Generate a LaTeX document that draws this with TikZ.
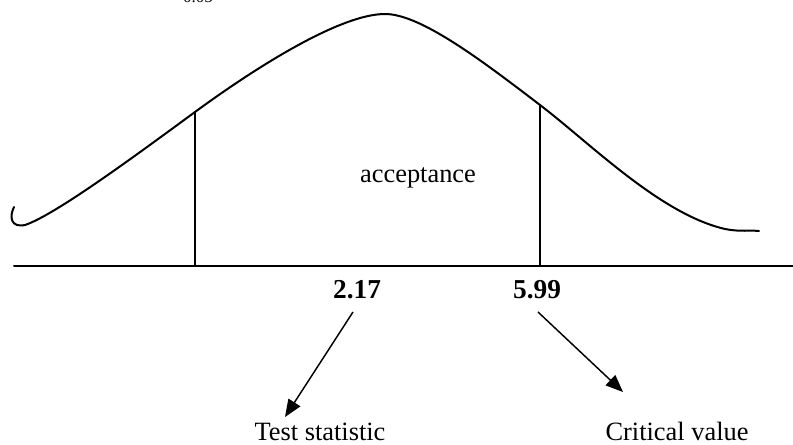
\documentclass[tikz,border=0pt]{standalone}
\usepackage{fontspec}
\setmainfont{Liberation Serif}
\usetikzlibrary{arrows.meta}

\begin{document}
\begin{tikzpicture}[x=0.75pt,y=0.75pt,
    curve/.style={line width=1.5pt,line join=round,line cap=round},
    pointer/.style={line width=1.1pt,-{Triangle[length=13pt,width=10.5pt]}},
    value/.style={font=\fontsize{20.5}{24}\selectfont\bfseries,inner sep=0pt},
    caption/.style={font=\fontsize{19.8}{24}\selectfont,inner sep=0pt}]
  \useasboundingbox (0,0) rectangle (793,444);

  % Partly hidden subscript at the top
  \node[font=\fontsize{12.8}{14}\selectfont,anchor=base,inner sep=0pt] (alpha) at (198,441) {0.05};

  % Density curve
  \draw[curve] (14,237) .. controls (9,227) and (11,216) .. (25,219)
    .. controls (55,229) and (135,288) .. (195,332)
    .. controls (255,376) and (340,430) .. (385,430)
    .. controls (420,430) and (480,385) .. (540,339)
    .. controls (590,301) and (660,230) .. (725,215)
    .. controls (740,212) and (750,214) .. (759,213);

  % Axis and region bounds
  \draw[curve] (14,178) -- (793,178);
  \draw[curve] (195,178) -- (195,332);
  \draw[curve] (540,178) -- (540,339);

  % Labels
  \node[caption] (accept) at (418,266) {acceptance};
  \node[value] (v217) at (357,154) {2.17};
  \node[value] (v599) at (537,154) {5.99};
  \node[caption,anchor=base] (test) at (320,4) {Test statistic};
  \node[caption,anchor=base] (crit) at (677,4) {Critical value};

  % Pointers
  \coordinate (from217) at (353,132);
  \coordinate (to217) at (285,27);
  \coordinate (from599) at (538,132);
  \coordinate (to599) at (623,52);
  \draw[pointer] (from217) -- (to217);
  \draw[pointer] (from599) -- (to599);
\end{tikzpicture}
\end{document}
